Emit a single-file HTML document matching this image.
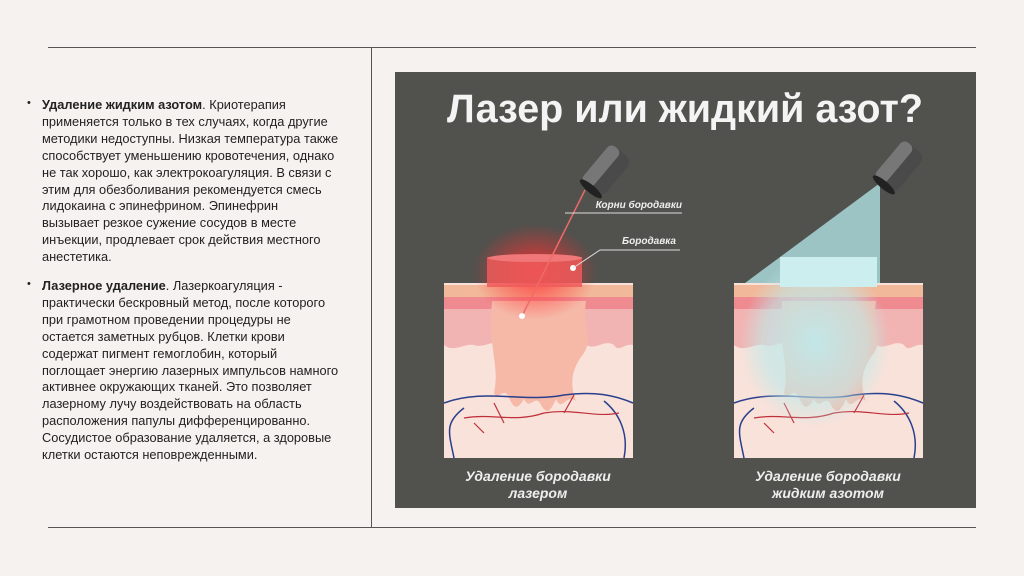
<!DOCTYPE html>
<html><head><meta charset="utf-8"><style>
body{margin:0;width:1024px;height:576px;background:#f6f2ef;position:relative;overflow:hidden;font-family:"Liberation Sans",sans-serif}
.hl{position:absolute;height:1px;background:#555}
.txt{position:absolute;left:42px;font-size:12.8px;line-height:16.9px;color:#222;white-space:nowrap}
.bul{position:absolute;left:27px;font-size:11px;color:#222}
</style></head><body>
<div class="hl" style="left:48px;top:47px;width:928px"></div>
<div class="hl" style="left:48px;top:527px;width:928px"></div>
<div style="position:absolute;left:371px;top:47px;width:1px;height:481px;background:#555"></div>
<div class="bul" style="top:97px">•</div>
<div class="txt" style="top:97px"><b>Удаление жидким азотом</b>. Криотерапия<br>применяется только в тех случаях, когда другие<br>методики недоступны. Низкая температура также<br>способствует уменьшению кровотечения, однако<br>не так хорошо, как электрокоагуляция. В связи с<br>этим для обезболивания рекомендуется смесь<br>лидокаина с эпинефрином. Эпинефрин<br>вызывает резкое сужение сосудов в месте<br>инъекции, продлевает срок действия местного<br>анестетика.</div>
<div class="bul" style="top:278px">•</div>
<div class="txt" style="top:278px"><b>Лазерное удаление</b>. Лазеркоагуляция -<br>практически бескровный метод, после которого<br>при грамотном проведении процедуры не<br>остается заметных рубцов. Клетки крови<br>содержат пигмент гемоглобин, который<br>поглощает энергию лазерных импульсов намного<br>активнее окружающих тканей. Это позволяет<br>лазерному лучу воздействовать на область<br>расположения папулы дифференцированно.<br>Сосудистое образование удаляется, а здоровые<br>клетки остаются неповрежденными.</div>
<svg style="position:absolute;left:395px;top:72px" width="581" height="436" viewBox="0 0 581 436">
<defs>
<radialGradient id="rg" cx="0.5" cy="0.5" r="0.5"><stop offset="0" stop-color="#ff3030" stop-opacity="0.9"/><stop offset="1" stop-color="#ff3030" stop-opacity="0"/></radialGradient>
<radialGradient id="bg" cx="0.5" cy="0.5" r="0.5"><stop offset="0" stop-color="#bfe9ea" stop-opacity="0.95"/><stop offset="0.7" stop-color="#bfe9ea" stop-opacity="0.6"/><stop offset="1" stop-color="#bfe9ea" stop-opacity="0"/></radialGradient>
<g id="skin">
<rect x="0" y="0" width="189" height="175" fill="#f8e2da"/>
<path d="M0 2 H189 V22 H0Z" fill="#f2b89a"/>
<path d="M0 14 H189 V26 H0Z" fill="#ef8a90"/>
<path d="M0 26 H189 V62 C180 60 175 70 170 62 C160 55 150 70 140 60 C120 55 110 70 100 62 L90 62 C80 62 70 72 60 62 C50 55 40 66 30 62 C20 60 10 70 0 62Z" fill="#f2b4b2"/>
<path d="M48 18 H142 C138 50 150 52 140 70 C128 85 125 100 132 118 C122 110 118 130 112 116 C106 130 102 132 96 120 C90 112 86 128 80 116 C74 126 70 128 64 112 C58 105 54 118 50 110 C56 80 44 70 48 18Z" fill="#f6b9a8"/>
<path d="M0 120 C40 105 80 120 120 112 C150 108 170 112 189 120 M10 175 C5 150 0 140 20 125 M180 175 C185 150 175 130 160 118" stroke="#2a3f8c" stroke-width="1.5" fill="none"/>
<path d="M20 135 C50 130 70 140 100 130 C130 125 150 135 175 130 M60 140 L50 120 M120 130 L130 112 M40 150 L30 140" stroke="#c0303a" stroke-width="1.2" fill="none"/>
</g>
</defs>
<rect width="581" height="436" fill="#51514d"/>
<text x="290" y="50" text-anchor="middle" font-size="40" font-weight="bold" fill="#f4f4f4" font-family="Liberation Sans" textLength="476" lengthAdjust="spacingAndGlyphs">Лазер или жидкий азот?</text>
<!-- left -->
<use href="#skin" x="49" y="211"/>
<ellipse cx="140" cy="200" rx="62" ry="48" fill="url(#rg)"/>
<rect x="92" y="185" width="95" height="30" fill="#ef5a5a" opacity="0.85"/>
<ellipse cx="140" cy="186" rx="47" ry="4" fill="#f07878"/>
<g transform="translate(210,100) rotate(40)"><rect x="-14" y="-26" width="28" height="48" rx="8" fill="#4a4a4a"/><rect x="-14" y="-26" width="14" height="48" rx="6" fill="#777"/><ellipse cx="0" cy="22" rx="14" ry="4" fill="#222"/></g>
<line x1="190" y1="118" x2="127" y2="244" stroke="#f06a6a" stroke-width="1.5"/>
<circle cx="127" cy="244" r="3" fill="#fff"/><circle cx="178" cy="196" r="3" fill="#fff"/>
<polyline points="178,196 205,178 285,178" stroke="#ddd" fill="none"/>
<line x1="170" y1="141" x2="287" y2="141" stroke="#ddd"/>
<text x="287" y="136" text-anchor="end" font-size="10" font-style="italic" font-weight="bold" fill="#eee">Корни бородавки</text>
<text x="281" y="172" text-anchor="end" font-size="10" font-style="italic" font-weight="bold" fill="#eee">Бородавка</text>
<text x="143" y="409" text-anchor="middle" font-size="14" font-style="italic" font-weight="bold" fill="#eee">Удаление бородавки</text>
<text x="143" y="426" text-anchor="middle" font-size="14" font-style="italic" font-weight="bold" fill="#eee">лазером</text>
<!-- right -->
<use href="#skin" x="339" y="211"/>
<polygon points="485,111 350,211 485,211" fill="#a9d8da" opacity="0.85"/>
<ellipse cx="420" cy="270" rx="75" ry="85" fill="url(#bg)"/>
<rect x="385" y="185" width="97" height="30" fill="#cdeeee"/>
<g transform="translate(503,96) rotate(40)"><rect x="-14" y="-26" width="28" height="48" rx="8" fill="#4a4a4a"/><rect x="-14" y="-26" width="14" height="48" rx="6" fill="#777"/><ellipse cx="0" cy="22" rx="14" ry="4" fill="#222"/></g>
<text x="433" y="409" text-anchor="middle" font-size="14" font-style="italic" font-weight="bold" fill="#eee">Удаление бородавки</text>
<text x="433" y="426" text-anchor="middle" font-size="14" font-style="italic" font-weight="bold" fill="#eee">жидким азотом</text>
</svg>
</body></html>
